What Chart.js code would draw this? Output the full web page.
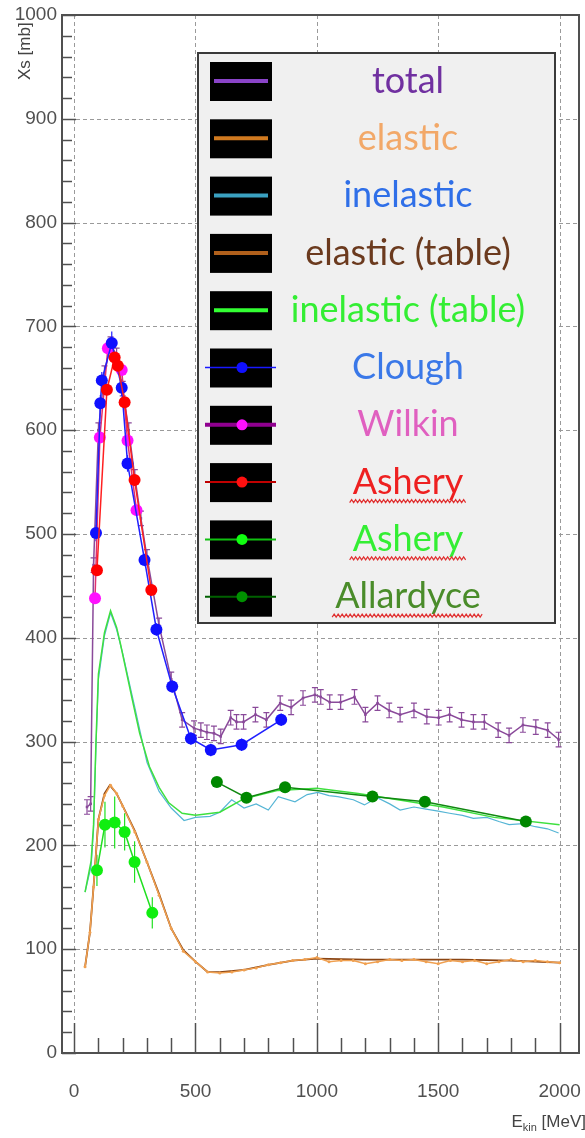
<!DOCTYPE html>
<html><head><meta charset="utf-8">
<script src="https://cdn.jsdelivr.net/npm/chart.js@4.4.0/dist/chart.umd.min.js"></script>
<style>html,body{margin:0;padding:0;background:#fff}canvas{display:block}</style>
</head><body>
<canvas id="c" width="585" height="1138" style="width:585px;height:1138px"></canvas>
<script>
// ---------------- data ----------------
const xTickValues = [0, 500, 1000, 1500, 2000];
const yTickValues = [0, 100, 200, 300, 400, 500, 600, 700, 800, 900, 1000];
const xTitleMain = "E";
const xTitleSub = "kin";
const xTitleUnit = " [MeV]";
const yTitle = "Xs [mb]";

const totalE   = [53, 68, 80, 100, 125, 150, 175, 200, 225, 250, 275, 300, 350, 400, 445, 494, 522, 547, 576, 604, 645, 669, 698, 747, 792, 849, 894, 943, 992, 1016, 1053, 1098, 1155, 1200, 1250, 1298, 1343, 1400, 1453, 1502, 1547, 1596, 1645, 1690, 1747, 1792, 1849, 1902, 1951, 1996];
const totalXs  = [237, 240, 470, 600, 655, 683, 672, 640, 600, 555, 515, 478, 412, 360, 321, 313, 311, 309, 308, 305, 323, 319, 319, 326, 321, 337, 333, 342, 345, 343, 338, 338, 343, 326, 337, 330, 326, 330, 324, 323, 326, 321, 319, 319, 311, 306, 316, 314, 311, 302];
const totalErr = [7, 7, 7, 7, 7, 7, 7, 7, 7, 7, 7, 7, 7, 7, 7, 7, 7, 7, 7, 7, 7, 7, 7, 7, 7, 7, 7, 7, 7, 7, 7, 7, 7, 7, 7, 7, 7, 7, 7, 7, 7, 7, 7, 7, 7, 7, 7, 7, 7, 7];

const elasticE  = [45, 65, 80, 100, 125, 150, 175, 200, 250, 300, 350, 400, 450, 500, 550, 600, 650, 700, 750, 800, 850, 900, 950, 1000, 1050, 1100, 1150, 1200, 1250, 1300, 1350, 1400, 1450, 1500, 1550, 1600, 1650, 1700, 1750, 1800, 1850, 1900, 1950, 2000];
const elasticXs = [83, 116, 160, 225, 248, 258, 250, 238, 213, 184, 152, 120, 98, 88, 78, 77, 78, 80, 82, 85, 87, 89, 90, 92, 88, 89, 89, 86, 88, 90, 89, 90, 88, 86, 89, 88, 89, 86, 88, 90, 88, 89, 88, 87];

const inelE  = [45, 70, 80, 90, 100, 125, 150, 175, 200, 250, 300, 350, 400, 453, 500, 560, 600, 649, 700, 750, 800, 841, 910, 960, 1004, 1050, 1086, 1150, 1196, 1249, 1300, 1343, 1400, 1450, 1500, 1547, 1600, 1645, 1700, 1750, 1792, 1850, 1900, 1950, 1996];
const inelXs = [155, 180, 215, 295, 360, 402, 424, 408, 385, 333, 280, 252, 236, 224, 227, 228, 232, 244, 236, 240, 234, 247, 242, 249, 251, 248, 247, 244, 239, 246, 240, 234, 237, 235, 233, 231, 229, 226, 227, 223, 220, 221, 218, 216, 212];

const elTabE  = [45, 65, 80, 100, 125, 147, 175, 200, 250, 300, 350, 400, 450, 500, 550, 600, 700, 800, 900, 1000, 1200, 1400, 1600, 1800, 2000];
const elTabXs = [83, 116, 160, 225, 250, 258, 250, 238, 214, 184, 153, 120, 99, 88, 78, 78, 80, 85, 89, 91, 90, 90, 90, 89, 87];

const inelTabE  = [45, 70, 80, 90, 100, 125, 150, 175, 190, 240, 270, 310, 350, 390, 445, 500, 600, 700, 840, 1000, 1170, 1250, 1520, 1730, 2000];
const inelTabXs = [155, 185, 220, 300, 365, 405, 426, 410, 395, 340, 308, 276, 256, 241, 231, 229, 232, 245, 253, 255, 250, 247, 237, 227, 220];

const cloughE   = [90, 108, 114, 155, 196, 220, 290, 339, 404, 481, 563, 690, 853];
const cloughXs  = [501, 626, 648, 684, 641, 568, 475, 408, 353, 303, 292, 297, 321];
const cloughErr = [8, 8, 8, 11, 8, 8, 6, 6, 6, 6, 6, 6, 6];

const wilkinE  = [86, 106, 139, 196, 220, 257];
const wilkinXs = [438, 593, 679, 658, 590, 523];

const asheryRE  = [94, 135, 167, 180, 208, 249, 318];
const asheryRXs = [465, 639, 670, 662, 627, 552, 446];

const asheryGE   = [94, 127, 167, 208, 249, 322];
const asheryGXs  = [176, 220, 222, 213, 184, 135];
const asheryGErr = [15, 22, 25, 18, 20, 15];

const allardE  = [588, 710, 869, 1229, 1445, 1861];
const allardXs = [261, 246, 256, 247, 242, 223];

const labels = ["total", "elastic", "inelastic", "elastic (table)", "inelastic (table)", "Clough", "Wilkin", "Ashery", "Ashery", "Allardyce"];

// ---------------- chart ----------------
const pts = (xs, ys) => xs.map((x, i) => ({x: x, y: ys[i]}));

const legendStyle = [
  {text: '#7030a0', swLine: '#8a44c8', swW: 4, dot: null},
  {text: '#f2a868', swLine: '#d07a20', swW: 4, dot: null},
  {text: '#2f6fe8', swLine: '#3aa0c0', swW: 4, dot: null},
  {text: '#6b3a1e', swLine: '#b0601c', swW: 4, dot: null},
  {text: '#33ee33', swLine: '#33ff33', swW: 4, dot: null},
  {text: '#3a78e8', swLine: '#1818ff', swW: 1.5, dot: '#1010ff'},
  {text: '#e060c0', swLine: '#900090', swW: 4, dot: '#ff10ff'},
  {text: '#ee2020', swLine: '#c00000', swW: 2, dot: '#ff1010'},
  {text: '#33ee33', swLine: '#10c010', swW: 2, dot: '#10ff10'},
  {text: '#4a8c2a', swLine: '#006000', swW: 2, dot: '#009000'}
];
const squiggle = [false, false, false, false, false, false, false, true, true, true];

const datasets = [
  {label: labels[0], data: pts(totalE, totalXs), errors: totalErr, capW: 3, borderColor: '#8a4a9a', backgroundColor: '#8a4a9a', borderWidth: 1.5, pointRadius: 1.8, pointStyle: 'rect', order: 6},
  {label: labels[1], data: pts(elasticE, elasticXs), borderColor: '#f0a050', backgroundColor: '#f0a050', borderWidth: 1.5, pointRadius: 1.5, order: 9},
  {label: labels[2], data: pts(inelE, inelXs), borderColor: '#55b5d5', backgroundColor: '#55b5d5', borderWidth: 1.2, pointRadius: 0, order: 8},
  {label: labels[3], data: pts(elTabE, elTabXs), borderColor: '#8b4513', backgroundColor: '#8b4513', borderWidth: 1.8, pointRadius: 0, order: 10},
  {label: labels[4], data: pts(inelTabE, inelTabXs), borderColor: '#3ee03e', backgroundColor: '#3ee03e', borderWidth: 1.5, pointRadius: 0, order: 7},
  {label: labels[5], data: pts(cloughE, cloughXs), errors: cloughErr, capW: 0, borderColor: '#2020ff', backgroundColor: '#1010ff', borderWidth: 1.5, pointRadius: 6, order: 3},
  {label: labels[6], data: pts(wilkinE, wilkinXs), borderColor: '#e03070', backgroundColor: '#ff10ff', borderWidth: 1.5, pointRadius: 6, order: 4},
  {label: labels[7], data: pts(asheryRE, asheryRXs), borderColor: '#ff2020', backgroundColor: '#ff0000', borderWidth: 1.5, pointRadius: 6, order: 2},
  {label: labels[8], data: pts(asheryGE, asheryGXs), errors: asheryGErr, capW: 0, borderColor: '#20e020', backgroundColor: '#10ee10', borderWidth: 1.5, pointRadius: 6, order: 1},
  {label: labels[9], data: pts(allardE, allardXs), borderColor: '#108810', backgroundColor: '#008800', borderWidth: 1.5, pointRadius: 6, order: 1}
];
datasets.forEach(d => { d.showLine = true; d.pointBorderWidth = 0; d.pointHoverRadius = d.pointRadius; });

const rootPlugin = {
  id: 'rootStyle',
  beforeDatasetsDraw(chart) {
    const {ctx, chartArea: a, scales: {x, y}} = chart;
    ctx.save();
    ctx.strokeStyle = '#9a9a9a';
    ctx.lineWidth = 1;
    ctx.setLineDash([4, 3]);
    xTickValues.forEach(v => {
      const px = Math.round(x.getPixelForValue(v)) + 0.5;
      ctx.beginPath(); ctx.moveTo(px, a.top); ctx.lineTo(px, a.bottom); ctx.stroke();
    });
    yTickValues.forEach(v => {
      const py = Math.round(y.getPixelForValue(v)) + 0.5;
      ctx.beginPath(); ctx.moveTo(a.left, py); ctx.lineTo(a.right, py); ctx.stroke();
    });
    ctx.setLineDash([]);
    // error bars
    chart.data.datasets.forEach((ds, i) => {
      if (!ds.errors) return;
      ctx.strokeStyle = ds.borderColor;
      ctx.lineWidth = 1.2;
      ds.data.forEach((p, j) => {
        const px = x.getPixelForValue(p.x);
        const y1 = y.getPixelForValue(p.y + ds.errors[j]);
        const y2 = y.getPixelForValue(p.y - ds.errors[j]);
        ctx.beginPath(); ctx.moveTo(px, y1); ctx.lineTo(px, y2);
        if (ds.capW) {
          ctx.moveTo(px - ds.capW, y1); ctx.lineTo(px + ds.capW, y1);
          ctx.moveTo(px - ds.capW, y2); ctx.lineTo(px + ds.capW, y2);
        }
        ctx.stroke();
      });
    });
    ctx.restore();
  },
  afterDraw(chart) {
    const {ctx, chartArea: a, scales: {x, y}} = chart;
    ctx.save();
    // frame
    ctx.strokeStyle = '#505050';
    ctx.lineWidth = 2;
    ctx.strokeRect(a.left, a.top, a.right - a.left, a.bottom - a.top);
    // inner ticks
    ctx.lineWidth = 1.5;
    for (let v = 0; v <= 1000; v += 20) {
      const py = Math.round(y.getPixelForValue(v)) + 0.5;
      const len = (v % 100 === 0) ? 14 : 10;
      ctx.beginPath(); ctx.moveTo(a.left, py); ctx.lineTo(a.left + len, py); ctx.stroke();
    }
    for (let v = 0; v <= 2000; v += 100) {
      const px = Math.round(x.getPixelForValue(v)) + 0.5;
      const len = (v % 500 === 0) ? 30 : 15;
      ctx.beginPath(); ctx.moveTo(px, a.bottom); ctx.lineTo(px, a.bottom - len); ctx.stroke();
    }
    // axis titles
    ctx.fillStyle = '#444';
    ctx.textBaseline = 'alphabetic';
    const fMain = '17px "Liberation Sans", Arial, sans-serif';
    const fSub = '11px "Liberation Sans", Arial, sans-serif';
    ctx.font = fMain;
    const wE = ctx.measureText(xTitleMain).width;
    const wU = ctx.measureText(xTitleUnit).width;
    ctx.font = fSub;
    const wS = ctx.measureText(xTitleSub).width;
    let tx = 586 - (wE + wS + wU);
    const ty = 1127;
    ctx.font = fMain; ctx.textAlign = 'left';
    ctx.fillText(xTitleMain, tx, ty); tx += wE;
    ctx.font = fSub; ctx.fillText(xTitleSub, tx, ty + 4); tx += wS;
    ctx.font = fMain; ctx.fillText(xTitleUnit, tx, ty);
    ctx.save();
    ctx.translate(30, 80);
    ctx.rotate(-Math.PI / 2);
    ctx.font = '17px "Liberation Sans", Arial, sans-serif';
    ctx.textAlign = 'left';
    ctx.fillText(yTitle, 0, 0);
    ctx.restore();
    // legend
    const L = {x: 198, y: 53, w: 357, h: 570, row0: 81, step: 57.3};
    ctx.fillStyle = '#f0f0f0';
    ctx.fillRect(L.x, L.y, L.w, L.h);
    ctx.strokeStyle = '#3a3a3a';
    ctx.lineWidth = 2;
    ctx.strokeRect(L.x, L.y, L.w, L.h);
    chart.data.datasets.forEach((ds, i) => {
      const st = legendStyle[i];
      const cy = L.row0 + i * L.step;
      ctx.fillStyle = '#000';
      ctx.fillRect(210, cy - 19, 62, 39);
      ctx.strokeStyle = st.swLine;
      ctx.lineWidth = st.swW;
      ctx.beginPath();
      if (st.dot) { ctx.moveTo(205, cy); ctx.lineTo(276, cy); }
      else { ctx.moveTo(214, cy); ctx.lineTo(268, cy); }
      ctx.stroke();
      if (st.dot) {
        ctx.fillStyle = st.dot;
        ctx.beginPath(); ctx.arc(242, cy, 5.5, 0, Math.PI * 2); ctx.fill();
      }
      ctx.font = '36px Lato, "Open Sans", sans-serif';
      ctx.fillStyle = st.text;
      ctx.textAlign = 'center';
      ctx.textBaseline = 'middle';
      const tw = ctx.measureText(ds.label).width;
      ctx.fillText(ds.label, 408, cy);
      if (squiggle[i]) {
        ctx.strokeStyle = '#e03030';
        ctx.lineWidth = 1.2;
        ctx.beginPath();
        const sx = 408 - tw / 2 - 3, ex = 408 + tw / 2 + 3, sy = cy + 19;
        for (let k = 0, px = sx; px <= ex; k++, px += 2) {
          const yy = sy + ((k % 2) ? -1.5 : 1.5);
          if (k === 0) ctx.moveTo(px, yy); else ctx.lineTo(px, yy);
        }
        ctx.stroke();
      }
    });
    ctx.restore();
  }
};

const tickFont = {family: '"Liberation Sans", Arial, sans-serif', size: 19};

new Chart(document.getElementById('c'), {
  type: 'scatter',
  data: {datasets: datasets},
  options: {
    responsive: false,
    animation: false,
    layout: {padding: {top: 15, right: 1, left: 0, bottom: 0}},
    plugins: {legend: {display: false}, tooltip: {enabled: false}},
    scales: {
      x: {
        type: 'linear', min: -50, max: 2080,
        afterBuildTicks: s => { s.ticks = xTickValues.map(v => ({value: v})); },
        afterFit: s => { s.height = 85; s.paddingLeft = 0; s.paddingRight = 0; s.paddingTop = 0; s.paddingBottom = 0; },
        grid: {display: false, drawTicks: false},
        border: {display: false},
        ticks: {font: tickFont, color: '#505050', padding: 27, maxRotation: 0, autoSkip: false, callback: v => String(v)}
      },
      y: {
        type: 'linear', min: 0, max: 1000,
        afterBuildTicks: s => { s.ticks = yTickValues.map(v => ({value: v})); },
        afterFit: s => { s.width = 62; s.paddingLeft = 0; s.paddingRight = 0; s.paddingTop = 0; s.paddingBottom = 0; },
        grid: {display: false, drawTicks: false},
        border: {display: false},
        ticks: {font: tickFont, color: '#505050', padding: 5, autoSkip: false, callback: v => String(v)}
      }
    }
  },
  plugins: [rootPlugin]
});
</script>
</body></html>
